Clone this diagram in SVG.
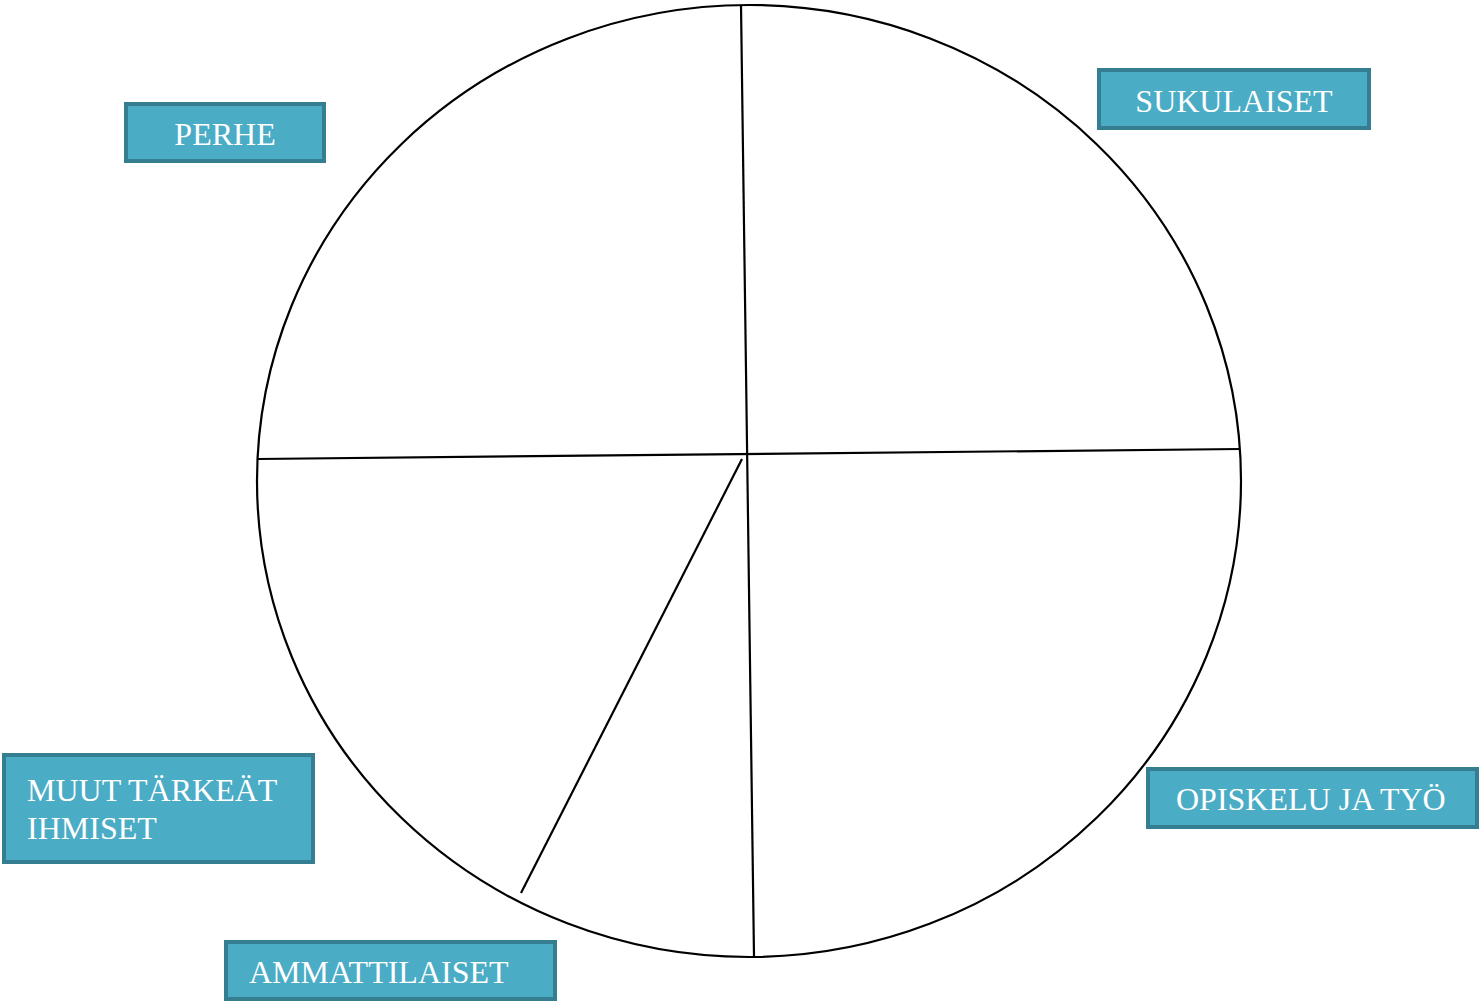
<svg xmlns="http://www.w3.org/2000/svg" width="1479" height="1005" viewBox="0 0 1479 1005">
<style>
.box{fill:#4BACC6;stroke:#357D91;stroke-width:4}
.lbl{font-family:"Liberation Serif","Times New Roman",serif;font-size:32px;fill:#ffffff}
.ln{stroke:#000;stroke-width:2.2;fill:none}
</style>
<rect width="1479" height="1005" fill="#fff"/>
<g id="circle">
<ellipse class="ln" cx="749" cy="481" rx="492" ry="476"/>
</g>
<g id="connectors">
<line class="ln" x1="741" y1="5" x2="754" y2="956"/>
<line class="ln" x1="258" y1="459" x2="1240" y2="449"/>
<line class="ln" x1="742" y1="459" x2="521" y2="893"/>
</g>
<g id="perhe">
<rect class="box" x="126" y="104" width="198" height="57"/>
<text class="lbl" x="225" y="145" text-anchor="middle">PERHE</text>
</g>
<g id="sukulaiset">
<rect class="box" x="1099" y="70" width="270" height="58"/>
<text class="lbl" x="1234" y="112" text-anchor="middle">SUKULAISET</text>
</g>
<g id="opiskelu">
<rect class="box" x="1148" y="769" width="329" height="58"/>
<text class="lbl" x="1176" y="810">OPISKELU JA TYÖ</text>
</g>
<g id="muut">
<rect class="box" x="4" y="755" width="309" height="107"/>
<text class="lbl" x="27" y="801">MUUT TÄRKEÄT</text>
<text class="lbl" x="27" y="839">IHMISET</text>
</g>
<g id="ammattilaiset">
<rect class="box" x="226" y="942" width="329" height="57"/>
<text class="lbl" x="249" y="983">AMMATTILAISET</text>
</g>
</svg>
